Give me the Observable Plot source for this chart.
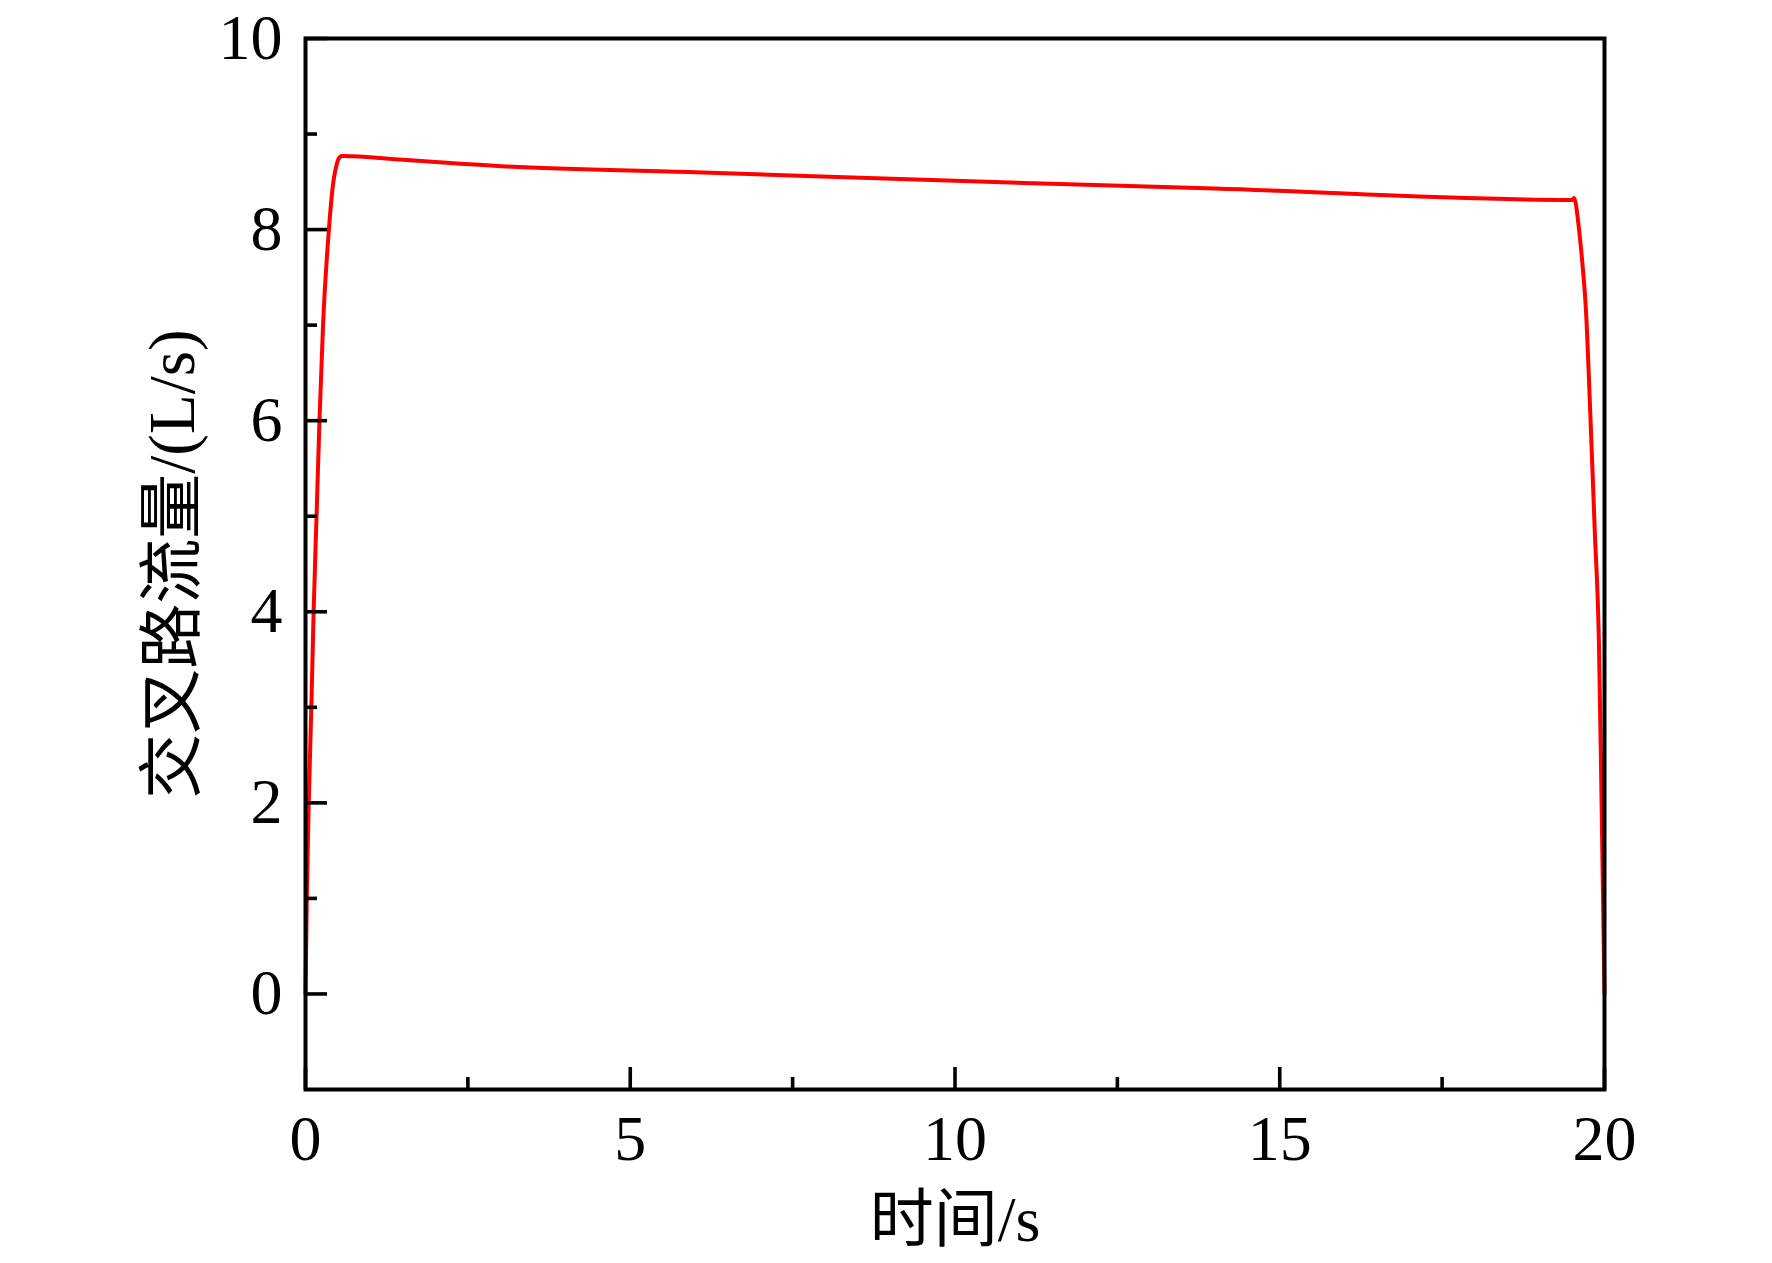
<!DOCTYPE html>
<html>
<head>
<meta charset="utf-8">
<script src="https://cdn.jsdelivr.net/npm/d3@7"></script>
<script src="https://cdn.jsdelivr.net/npm/@observablehq/plot@0.6"></script>
<style>
  html, body { margin: 0; padding: 0; background: #fff; }
</style>
</head>
<body>
<div id="chart"></div>
<script>
// ---- data ----
const time = [0, 0.02, 0.05, 0.09, 0.125, 0.17, 0.215, 0.27, 0.36, 0.42, 0.48, 0.53, 0.57,
              1.5, 3.1, 6, 10, 14, 19.5, 19.53, 19.555, 19.60, 19.655, 19.715, 19.78, 19.85,
              19.915, 19.955, 20];
const flow = [0, 1, 2, 3, 4, 5, 6, 7, 8, 8.45, 8.68, 8.76, 8.77,
              8.73, 8.66, 8.60, 8.51, 8.43, 8.31, 8.33, 8.28, 8.05, 7.68, 7.15, 6.1, 4.85,
              3.65, 2.0, 0];
const xMajorTicks = [0, 5, 10, 15, 20];
const xMinorTicks = [2.5, 7.5, 12.5, 17.5];
const yMajorTicks = [0, 2, 4, 6, 8, 10];
const yMinorTicks = [1, 3, 5, 7, 9];
const xTitle = "时间/s";
const yTitle = "交叉路流量/(L/s)";

const rows = time.map((t, i) => ({t, v: flow[i]}));

const W = 1772, H = 1263;
const mL = 305, mR = 168, mT = 38, mB = 174;
const innerW = W - mL - mR, innerH = H - mT - mB;
const majorLen = 22, minorLen = 12;
const font = "'Liberation Serif', 'Times New Roman', 'Noto Sans CJK SC', serif";

const chart = Plot.plot({
  width: W, height: H,
  marginLeft: mL, marginRight: mR, marginTop: mT, marginBottom: mB,
  style: {fontFamily: font, background: "white", color: "black"},
  x: {domain: [0, 20]},
  y: {domain: [-1, 10]},
  marks: [
    Plot.line(rows, {x: "t", y: "v", stroke: "#ff0000", strokeWidth: 4, curve: "monotone-x"}),
    Plot.tickX(xMajorTicks, {x: d => d, insetTop: innerH - majorLen, stroke: "black", strokeWidth: 3.6}),
    Plot.tickX(xMinorTicks, {x: d => d, insetTop: innerH - minorLen, stroke: "black", strokeWidth: 3.6}),
    Plot.tickY(yMajorTicks, {y: d => d, insetRight: innerW - majorLen, stroke: "black", strokeWidth: 3.6}),
    Plot.tickY(yMinorTicks, {y: d => d, insetRight: innerW - minorLen, stroke: "black", strokeWidth: 3.6}),
    Plot.frame({stroke: "black", strokeWidth: 4}),
    Plot.axisX(xMajorTicks, {tickSize: 0, tickPadding: 25, fontSize: 64, label: null, tickFormat: d => d, fill: "black"}),
    Plot.axisY(yMajorTicks, {tickSize: 0, tickPadding: 23, fontSize: 64, label: null, tickFormat: d => d, fill: "black"}),
    Plot.text([xTitle], {text: d => d, frameAnchor: "bottom", textAnchor: "middle", dy: 131, fontSize: 64, fill: "black", lineAnchor: "middle"}),
    Plot.text([yTitle], {text: d => d, frameAnchor: "left", textAnchor: "middle", dx: -132, rotate: -90, fontSize: 65, fill: "black", lineAnchor: "middle"})
  ]
});
document.getElementById("chart").appendChild(chart);
</script>
</body>
</html>
